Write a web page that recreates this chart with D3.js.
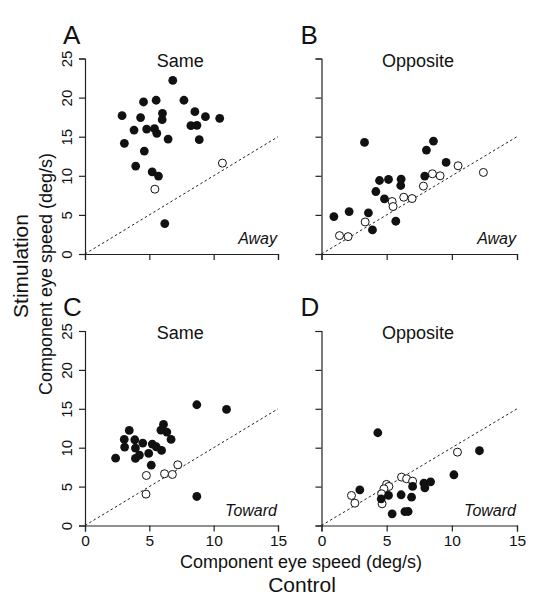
<!DOCTYPE html>
<html><head><meta charset="utf-8">
<script src="https://cdn.jsdelivr.net/npm/d3@7"></script>
<style>body{margin:0;background:#fff;} svg{display:block;} text{font-family:"Liberation Sans",Arial,Helvetica,sans-serif;fill:#111;}</style>
</head><body>
<svg id="c" width="543" height="600"></svg>
<script>
const xTicks = [0, 5, 10, 15];
const yTicks = [0, 5, 10, 15, 20, 25];
const panelLetters = ["A", "B", "C", "D"];
const panelTitles = ["Same", "Opposite", "Same", "Opposite"];
const panelTags = ["Away", "Away", "Toward", "Toward"];

const aFilled = [[6.82,22.2],[4.55,19.44],[5.53,19.66],[7.69,19.66],[2.88,17.69],[4.32,17.44],[6.02,17.99],[6.0,17.18],[8.54,18.2],[9.36,17.56],[10.47,17.35],[8.23,16.41],[8.7,16.45],[3.81,15.85],[4.79,15.98],[5.4,16.03],[5.58,15.43],[6.46,14.7],[8.88,14.62],[3.06,14.15],[4.61,13.16],[3.94,11.24],[5.22,10.51],[5.71,9.96],[6.2,3.89]];
const aOpen = [[5.43,8.29],[10.68,11.62]];

const bFilled = [[3.3,14.27],[8.59,14.44],[8.05,13.29],[9.56,11.71],[7.92,9.96],[4.45,9.4],[5.14,9.53],[6.11,9.57],[6.08,8.76],[4.17,7.99],[4.83,7.05],[0.95,4.79],[2.12,5.43],[3.6,5.26],[5.7,4.19],[3.91,3.08]];
const bOpen = [[10.48,11.28],[12.42,10.43],[8.51,10.26],[9.1,10.0],[7.82,8.68],[6.31,7.26],[6.95,7.09],[5.42,6.71],[5.49,6.07],[3.35,4.1],[1.38,2.35],[2.04,2.22]];

const cFilled = [[8.69,15.52],[11.0,14.92],[3.44,12.22],[6.1,12.99],[5.9,12.26],[6.36,12.01],[3.05,11.06],[3.87,11.02],[6.69,11.06],[3.08,10.08],[4.49,10.59],[5.23,10.46],[5.54,10.12],[3.92,9.95],[4.23,9.05],[4.95,9.26],[5.95,9.65],[3.92,8.62],[2.38,8.66],[5.15,7.76],[8.69,3.73]];
const cOpen = [[7.21,7.8],[6.18,6.65],[6.79,6.56],[4.77,6.43],[4.74,4.03]];

const dFilled = [[4.32,11.92],[12.12,9.61],[10.16,6.52],[2.94,4.59],[6.99,5.02],[7.86,5.44],[8.37,5.62],[7.93,4.85],[6.11,3.95],[6.91,3.64],[5.14,3.86],[4.58,3.43],[5.42,1.5],[6.65,1.8],[6.4,1.78]];
const dOpen = [[10.43,9.43],[6.14,6.22],[6.53,6.01],[6.99,5.7],[4.99,5.28],[5.17,5.02],[4.79,4.72],[4.61,4.08],[4.65,2.79],[2.3,3.86],[2.56,2.87]];

const filledSets = [aFilled, bFilled, cFilled, dFilled];
const openSets = [aOpen, bOpen, cOpen, dOpen];

const svg = d3.select("#c");
const colX = [[85, 278], [321.5, 517]];
const rowY = [[254, 58.5], [525.5, 331]];

for (let p = 0; p < 4; p++) {
  const col = p % 2, row = Math.floor(p / 2);
  const x = d3.scaleLinear().domain([0, 15]).range(colX[col]);
  const y = d3.scaleLinear().domain([0, 25]).range(rowY[row]);
  const g = svg.append("g");

  // axes
  const ax = g.append("g").attr("transform", `translate(0,${y(0)})`)
    .call(d3.axisBottom(x).tickValues(xTicks).tickSizeOuter(0).tickSize(6).tickPadding(3)
      .tickFormat(row === 1 ? d3.format("d") : () => ""));
  const ay = g.append("g").attr("transform", `translate(${x(0)},0)`)
    .call(d3.axisLeft(y).tickValues(yTicks).tickSizeOuter(0).tickSize(6)
      .tickFormat(col === 0 ? d3.format("d") : () => ""));
  [ax, ay].forEach(a => {
    a.selectAll("path,line").attr("stroke", "#222").attr("stroke-width", 1.2);
  });
  ax.selectAll("text").attr("font-size", 15.5).attr("fill", "#111")
    .attr("font-family", '"Liberation Sans",Arial,sans-serif');
  ay.selectAll("text").attr("font-size", 15).attr("fill", "#111")
    .attr("font-family", '"Liberation Sans",Arial,sans-serif')
    .attr("text-anchor", "middle").attr("dy", null)
    .attr("transform", "rotate(-90)").attr("x", 0).attr("y", -13);
  ay.selectAll(".tick text").attr("transform", "rotate(-90)");

  // identity line
  g.append("line")
    .attr("x1", x(0)).attr("y1", y(0)).attr("x2", x(15)).attr("y2", y(15))
    .attr("stroke", "#222").attr("stroke-width", 1).attr("stroke-dasharray", "2.5,2.5");

  // open points
  g.append("g").selectAll("circle").data(openSets[p]).join("circle")
    .attr("cx", d => x(d[0])).attr("cy", d => y(d[1])).attr("r", 4)
    .attr("fill", "#fff").attr("stroke", "#111").attr("stroke-width", 1);
  // filled points
  g.append("g").selectAll("circle").data(filledSets[p]).join("circle")
    .attr("cx", d => x(d[0])).attr("cy", d => y(d[1])).attr("r", 4.4)
    .attr("fill", "#111");

  // letter
  g.append("text").attr("x", x(0) - 22 + (col ? 1 : 0)).attr("y", y(25) - 15)
    .attr("font-size", 26).text(panelLetters[p]);
  // title
  g.append("text").attr("x", x(7.4)).attr("y", y(25) + 8).attr("text-anchor", "middle")
    .attr("font-size", 18).text(panelTitles[p]);
  // tag
  g.append("text").attr("x", x(15) - 1).attr("y", y(0) - 10).attr("text-anchor", "end")
    .attr("font-size", 16).attr("font-style", "italic").text(panelTags[p]);
}

svg.append("text").attr("x", 301).attr("y", 568).attr("text-anchor", "middle")
  .attr("font-size", 18).text("Component eye speed (deg/s)");
svg.append("text").attr("x", 302).attr("y", 592).attr("text-anchor", "middle")
  .attr("font-size", 21).text("Control");
svg.append("text").attr("transform", "translate(52,274) rotate(-90)").attr("text-anchor", "middle")
  .attr("font-size", 18).text("Component eye speed (deg/s)");
svg.append("text").attr("transform", "translate(28,266) rotate(-90)").attr("text-anchor", "middle")
  .attr("font-size", 21).text("Stimulation");
</script>
</body></html>
